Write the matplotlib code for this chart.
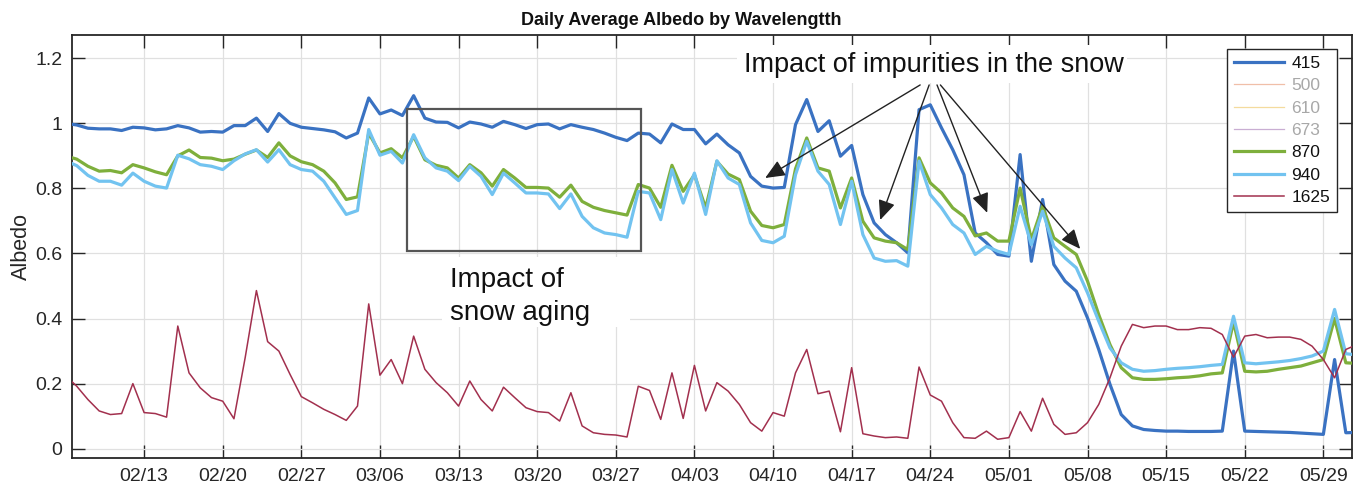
import datetime as dt
import matplotlib
matplotlib.use("Agg")
import matplotlib.pyplot as plt
import matplotlib.dates as mdates
from matplotlib.patches import Rectangle, FancyArrowPatch

plt.rcParams["font.family"] = ["Liberation Sans", "DejaVu Sans"]

# daily averages, one value per day starting 02/06
START = dt.datetime(2019, 2, 6)

alb_415 = [
    1.000, 0.995, 0.985, 0.983, 0.983, 0.978, 0.988, 0.986, 0.980, 0.983,
    0.993, 0.986, 0.973, 0.975, 0.973, 0.993, 0.993, 1.016, 0.975, 1.030,
    1.000, 0.988, 0.984, 0.980, 0.974, 0.955, 0.970, 1.078, 1.029, 1.041,
    1.024, 1.085, 1.016, 1.004, 1.003, 0.986, 1.004, 0.998, 0.988, 1.006,
    0.996, 0.984, 0.996, 0.998, 0.983, 0.996, 0.988, 0.981, 0.970, 0.957,
    0.947, 0.970, 0.967, 0.940, 0.998, 0.981, 0.981, 0.937, 0.967, 0.934,
    0.909, 0.837, 0.807, 0.801, 0.803, 0.996, 1.073, 0.975, 1.008, 0.899,
    0.932, 0.781, 0.694, 0.658, 0.633, 0.602, 1.042, 1.057, 0.986, 0.919,
    0.842, 0.663, 0.633, 0.597, 0.592, 0.904, 0.576, 0.766, 0.566, 0.515,
    0.484, 0.402, 0.305, 0.198, 0.105, 0.070, 0.059, 0.056, 0.054, 0.054,
    0.053, 0.053, 0.053, 0.054, 0.300, 0.054, 0.053, 0.052, 0.051, 0.050,
    0.048, 0.046, 0.044, 0.274, 0.049, 0.050,
]

alb_870 = [
    0.900, 0.890, 0.868, 0.853, 0.855, 0.848, 0.873, 0.863, 0.851, 0.842,
    0.900, 0.918, 0.895, 0.893, 0.885, 0.890, 0.905, 0.918, 0.895, 0.940,
    0.900, 0.882, 0.873, 0.853, 0.817, 0.766, 0.774, 0.970, 0.909, 0.922,
    0.894, 0.960, 0.888, 0.871, 0.863, 0.832, 0.873, 0.848, 0.807, 0.858,
    0.832, 0.803, 0.803, 0.801, 0.773, 0.810, 0.760, 0.742, 0.732, 0.725,
    0.718, 0.812, 0.801, 0.742, 0.871, 0.791, 0.842, 0.740, 0.883, 0.844,
    0.827, 0.730, 0.686, 0.679, 0.689, 0.860, 0.955, 0.863, 0.853, 0.740,
    0.832, 0.699, 0.648, 0.638, 0.633, 0.612, 0.894, 0.817, 0.786, 0.740,
    0.714, 0.654, 0.663, 0.638, 0.638, 0.801, 0.643, 0.745, 0.648, 0.622,
    0.597, 0.515, 0.412, 0.320, 0.249, 0.218, 0.213, 0.213, 0.215, 0.218,
    0.220, 0.224, 0.230, 0.233, 0.390, 0.238, 0.236, 0.238, 0.244, 0.249,
    0.254, 0.264, 0.274, 0.400, 0.264, 0.262,
]

alb_940 = [
    0.885, 0.870, 0.840, 0.822, 0.822, 0.810, 0.847, 0.822, 0.807, 0.801,
    0.902, 0.891, 0.873, 0.868, 0.858, 0.885, 0.906, 0.919, 0.881, 0.919,
    0.873, 0.858, 0.853, 0.822, 0.771, 0.720, 0.732, 0.981, 0.902, 0.914,
    0.878, 0.965, 0.894, 0.863, 0.853, 0.824, 0.868, 0.837, 0.781, 0.847,
    0.817, 0.786, 0.786, 0.783, 0.738, 0.783, 0.714, 0.679, 0.663, 0.658,
    0.650, 0.791, 0.786, 0.704, 0.858, 0.755, 0.847, 0.720, 0.885, 0.832,
    0.812, 0.694, 0.640, 0.633, 0.653, 0.842, 0.945, 0.853, 0.812, 0.689,
    0.822, 0.658, 0.586, 0.576, 0.578, 0.561, 0.884, 0.781, 0.740, 0.689,
    0.663, 0.597, 0.622, 0.607, 0.597, 0.745, 0.627, 0.730, 0.622, 0.586,
    0.556, 0.479, 0.392, 0.310, 0.264, 0.244, 0.238, 0.240, 0.244, 0.247,
    0.249, 0.252, 0.256, 0.259, 0.407, 0.264, 0.261, 0.264, 0.267, 0.271,
    0.277, 0.285, 0.300, 0.428, 0.292, 0.288,
]

alb_1625 = [
    0.225, 0.192, 0.151, 0.116, 0.105, 0.108, 0.200, 0.111, 0.108, 0.097,
    0.377, 0.233, 0.187, 0.157, 0.146, 0.092, 0.280, 0.486, 0.329, 0.300,
    0.228, 0.160, 0.141, 0.121, 0.105, 0.087, 0.131, 0.445, 0.226, 0.274,
    0.200, 0.346, 0.244, 0.203, 0.172, 0.131, 0.208, 0.151, 0.116, 0.189,
    0.157, 0.126, 0.114, 0.111, 0.085, 0.172, 0.070, 0.049, 0.044, 0.042,
    0.036, 0.192, 0.179, 0.090, 0.233, 0.093, 0.256, 0.116, 0.203, 0.177,
    0.136, 0.080, 0.054, 0.111, 0.100, 0.233, 0.305, 0.169, 0.177, 0.052,
    0.249, 0.046, 0.039, 0.034, 0.036, 0.032, 0.251, 0.165, 0.146, 0.080,
    0.034, 0.032, 0.054, 0.029, 0.034, 0.114, 0.054, 0.155, 0.075, 0.044,
    0.049, 0.080, 0.136, 0.218, 0.315, 0.382, 0.372, 0.377, 0.377, 0.366,
    0.366, 0.372, 0.370, 0.351, 0.281, 0.346, 0.351, 0.341, 0.343, 0.343,
    0.336, 0.315, 0.274, 0.218, 0.305, 0.320,
]

wavelengths = ["415", "500", "610", "673", "870", "940", "1625"]
# 500/610/673 are switched off in the legend (no visible line)
hidden = ["500", "610", "673"]
yticks = [0, 0.2, 0.4, 0.6, 0.8, 1.0, 1.2]
ytick_labels = ["0", "0.2", "0.4", "0.6", "0.8", "1", "1.2"]

dates = [START + dt.timedelta(days=i) for i in range(len(alb_415))]
FEB13 = dt.datetime(2019, 2, 13)
tick_dates = [FEB13 + dt.timedelta(weeks=k) for k in range(16)]


def day(d):
    # d = days after 02/13, as a matplotlib date number
    return mdates.date2num(FEB13 + dt.timedelta(days=d))


fig = plt.figure(figsize=(13.59, 4.88), dpi=100)
ax = fig.add_axes([72 / 1359, 30 / 488, 1280 / 1359, 423 / 488])

styles = {
    "415": dict(color="#3A72C2", lw=2.3),
    "500": dict(color="#F0BFA8", lw=0.9),
    "610": dict(color="#F4DB9E", lw=0.9),
    "673": dict(color="#C9AED3", lw=0.9),
    "870": dict(color="#7EAF3C", lw=2.3),
    "940": dict(color="#72C3F0", lw=2.3),
    "1625": dict(color="#A2304E", lw=1.1),
}
series = {"415": alb_415, "870": alb_870, "940": alb_940, "1625": alb_1625}

handles = []
for i, w in enumerate(wavelengths):
    if w in series:
        (ln,) = ax.plot(dates, series[w], zorder=3 + i, **styles[w])
    else:
        (ln,) = ax.plot([], [], zorder=3 + i, **styles[w])
    handles.append(ln)

ax.set_xlim(day(-6.42), day(107.55))
ax.set_ylim(-0.0286, 1.2715)
ax.set_xticks(tick_dates)
ax.xaxis.set_major_formatter(mdates.DateFormatter("%m/%d"))
ax.set_yticks(yticks)
ax.set_yticklabels(ytick_labels)

ax.set_axisbelow(True)
ax.grid(True, color="#e0e0e0", lw=0.9)
ax.tick_params(direction="in", length=9.5, width=1.0, top=True, right=True,
               labelsize=14, colors="#262626", pad=7)
for s in ax.spines.values():
    s.set_color("#262626")
    s.set_linewidth(1.3)

ax.set_title("Daily Average Albedo by Wavelengtth", fontsize=13, fontweight="bold",
             x=0.476, pad=7, color="#111111")
fig.text(21 / 1359, 1 - 246.5 / 488, "Albedo", rotation=90, ha="center", va="center",
         fontsize=15.5, color="#262626")

# snow aging box and its label
ax.add_patch(Rectangle((day(23.45), 0.608), day(44.23) - day(23.45), 1.044 - 0.608,
                       fill=False, edgecolor="#555555", lw=1.6, zorder=9))
ax.add_patch(Rectangle((day(26.5), 0.375), day(43.3) - day(26.5), 0.59 - 0.375,
                       facecolor="white", edgecolor="none", zorder=1.2))
ax.text(day(27.25), 0.498, "Impact of", fontsize=20, va="baseline", ha="left",
        color="#111111", zorder=10)
ax.text(day(27.25), 0.396, "snow aging", fontsize=20, va="baseline", ha="left",
        color="#111111", zorder=10)

# impurities label and arrows
ax.add_patch(Rectangle((day(52.8), 1.124), day(87.5) - day(52.8), 1.24 - 1.124,
                       facecolor="white", edgecolor="none", zorder=1.2))
ax.text(day(53.37), 1.159, "Impact of impurities in the snow", fontsize=19.5,
        va="baseline", ha="left", color="#111111", zorder=10)
arrows = [
    ((69.1, 1.118), (55.3, 0.832)),
    ((69.9, 1.118), (65.54, 0.703)),
    ((70.6, 1.118), (75.07, 0.725)),
    ((70.9, 1.118), (83.35, 0.614)),
]
for (d0, v0), (d1, v1) in arrows:
    ax.add_patch(FancyArrowPatch((day(d0), v0), (day(d1), v1),
                                 arrowstyle="-|>,head_length=0.6,head_width=0.26",
                                 mutation_scale=20, lw=1.0, color="#222222",
                                 shrinkA=0, shrinkB=0, zorder=10))

leg = ax.legend(handles, wavelengths, loc="upper right", bbox_to_anchor=(0.988, 0.967),
                fontsize=12.5, frameon=True, fancybox=False, framealpha=1,
                edgecolor="#262626", handlelength=2.9, handletextpad=0.4,
                labelspacing=0.42, borderpad=0.38, borderaxespad=0)
leg.get_frame().set_linewidth(1.0)
leg.set_zorder(20)
for t in leg.get_texts():
    t.set_color("#a8a8a8" if t.get_text() in hidden else "#111111")

fig.savefig("out.png", dpi=100)
